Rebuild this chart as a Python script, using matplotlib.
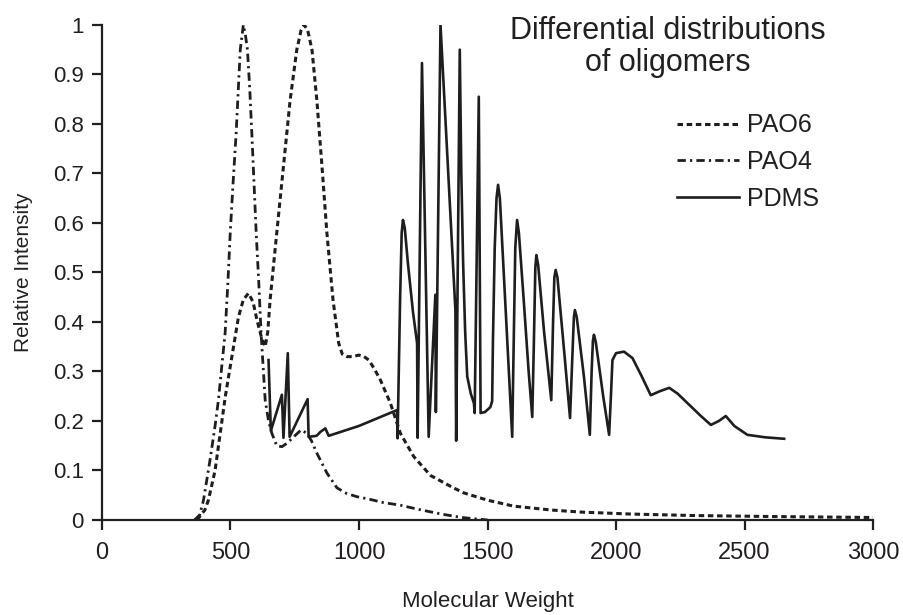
# Differential distributions of oligomers
# PAO6, PAO4 and PDMS relative intensity vs molecular weight.

import matplotlib
matplotlib.use("Agg")
import matplotlib.pyplot as plt

# PAO6 (dotted)
pao6_mw = [370, 400, 414, 440, 460, 480, 499, 515, 531, 550, 570, 588, 603, 620, 635, 645,
           654, 680, 706, 732, 758, 775, 787, 800, 817, 836, 856, 875, 899, 921, 935, 953,
           975, 999, 1020, 1038, 1060, 1083, 1122, 1161, 1213, 1278, 1356, 1406, 1500, 1601,
           1750, 1862, 2057, 2300, 2600, 3000]
pao6_y = [0.0, 0.02, 0.04, 0.10, 0.175, 0.25, 0.31, 0.36, 0.41, 0.445, 0.458, 0.44, 0.404, 0.37, 0.35, 0.38,
          0.444, 0.58, 0.714, 0.848, 0.95, 0.99, 1.0, 0.99, 0.95, 0.848, 0.714, 0.58, 0.444, 0.357, 0.335, 0.33,
          0.33, 0.333, 0.33, 0.323, 0.305, 0.283, 0.236, 0.175, 0.128, 0.09, 0.068, 0.055, 0.04, 0.028,
          0.02, 0.016, 0.012, 0.009, 0.007, 0.005]

# PAO4 (dash-dot)
pao4_mw = [360, 380, 395, 420, 440, 453, 466, 479, 490, 499, 510, 522, 538, 550, 558, 566, 575,
           583, 600, 610, 619, 635, 648, 661, 680, 700, 720, 750, 775, 797, 815, 836, 875, 914,
           950, 992, 1040, 1096, 1160, 1226, 1320, 1400, 1500]
pao4_y = [0.0, 0.01, 0.04, 0.12, 0.19, 0.242, 0.31, 0.377, 0.48, 0.58, 0.68, 0.781, 0.95, 1.0, 0.98, 0.95, 0.87,
          0.781, 0.58, 0.48, 0.377, 0.242, 0.20, 0.175, 0.15, 0.148, 0.155, 0.17, 0.182, 0.175, 0.16, 0.135, 0.095, 0.065,
          0.054, 0.047, 0.042, 0.035, 0.03, 0.022, 0.012, 0.005, 0.0]

# PDMS (solid)
pdms_mw = [648, 657, 700, 706, 723, 730, 800, 804, 835, 850, 869, 882, 1000, 1148, 1150, 1160,
           1166, 1171, 1178, 1190, 1210, 1226, 1228, 1245, 1271, 1297, 1299, 1317, 1375, 1378,
           1392, 1398, 1405, 1413, 1421, 1435, 1447, 1450, 1466, 1473, 1490, 1511, 1518, 1521,
           1528, 1535, 1541, 1548, 1560, 1580, 1596, 1600, 1608, 1615, 1622, 1640, 1660, 1674,
           1680, 1686, 1690, 1697, 1720, 1748, 1755, 1760, 1765, 1772, 1800, 1821, 1830, 1836,
           1840, 1847, 1875, 1898, 1905, 1910, 1914, 1921, 1950, 1973, 1980, 1986, 2000, 2031,
           2064, 2100, 2135, 2170, 2207, 2240, 2278, 2330, 2369, 2400, 2427, 2460, 2511, 2580, 2654]
pdms_y = [0.323, 0.18, 0.253, 0.166, 0.337, 0.168, 0.244, 0.168, 0.17, 0.178, 0.185, 0.17, 0.19, 0.222, 0.165, 0.45,
          0.58, 0.606, 0.59, 0.52, 0.42, 0.357, 0.166, 0.923, 0.168, 0.455, 0.218, 1.0, 0.424, 0.16,
          0.95, 0.7, 0.52, 0.38, 0.29, 0.255, 0.236, 0.216, 0.855, 0.216, 0.218, 0.228, 0.24, 0.36,
          0.55, 0.65, 0.677, 0.65, 0.53, 0.33, 0.168, 0.3, 0.55, 0.606, 0.58, 0.45, 0.3, 0.208,
          0.35, 0.51, 0.535, 0.515, 0.38, 0.242, 0.4, 0.49, 0.505, 0.49, 0.33, 0.206, 0.33, 0.41,
          0.424, 0.41, 0.29, 0.172, 0.3, 0.362, 0.374, 0.36, 0.25, 0.172, 0.25, 0.323, 0.337, 0.34,
          0.327, 0.29, 0.252, 0.26, 0.267, 0.255, 0.236, 0.21, 0.192, 0.2, 0.21, 0.19, 0.172, 0.167, 0.164]

x_ticks = [0, 500, 1000, 1500, 2000, 2500, 3000]
y_ticks = [0, 0.1, 0.2, 0.3, 0.4, 0.5, 0.6, 0.7, 0.8, 0.9, 1]
y_tick_labels = ["0", "0.1", "0.2", "0.3", "0.4", "0.5", "0.6", "0.7", "0.8", "0.9", "1"]

plt.rcParams["font.family"] = ["Liberation Sans", "DejaVu Sans"]
ink = "#231f20"
line_col = "#1e1e1e"

fig = plt.figure(figsize=(9.04, 6.15), dpi=100)
ax = fig.add_axes([0.1128, 0.1545, 0.853, 0.805])

ax.plot(pao6_mw, pao6_y, color=line_col, lw=2.2, linestyle=(0, (1.8, 1.2)), label="PAO6")
ax.plot(pao4_mw, pao4_y, color=line_col, lw=2.0, linestyle=(0, (3, 1.5, 0.8, 1.5)), label="PAO4")
ax.plot(pdms_mw, pdms_y, color=line_col, lw=1.9, label="PDMS")

ax.set_xlim(0, 3000)
ax.set_ylim(0, 1)
ax.set_xticks(x_ticks)
ax.set_yticks(y_ticks)
ax.set_yticklabels(y_tick_labels)

for side in ["top", "right"]:
    ax.spines[side].set_visible(False)
for side in ["left", "bottom"]:
    ax.spines[side].set_linewidth(1.6)
    ax.spines[side].set_color(ink)

ax.tick_params(axis="both", direction="out", length=7, width=1.6, colors=ink)
ax.tick_params(axis="x", pad=9, labelsize=17)
ax.tick_params(axis="y", pad=6, labelsize=16)

ax.set_xlabel("Molecular Weight", fontsize=16, color=ink, labelpad=19)
ax.set_ylabel("Relative Intensity", fontsize=15, color=ink, labelpad=14)

fig.text(668 / 904, 1 - 16 / 615, "Differential distributions\nof oligomers",
         ha="center", va="top", fontsize=22, color=ink, linespacing=1.08)

leg = ax.legend(loc="upper left", bbox_to_anchor=(665 / 904, 1 - 101 / 615),
                bbox_transform=fig.transFigure, frameon=False, fontsize=18,
                handlelength=2.45, handletextpad=0.35, labelspacing=0.5, borderpad=0)
for t in leg.get_texts():
    t.set_color(ink)

fig.savefig("out.png", dpi=100)
